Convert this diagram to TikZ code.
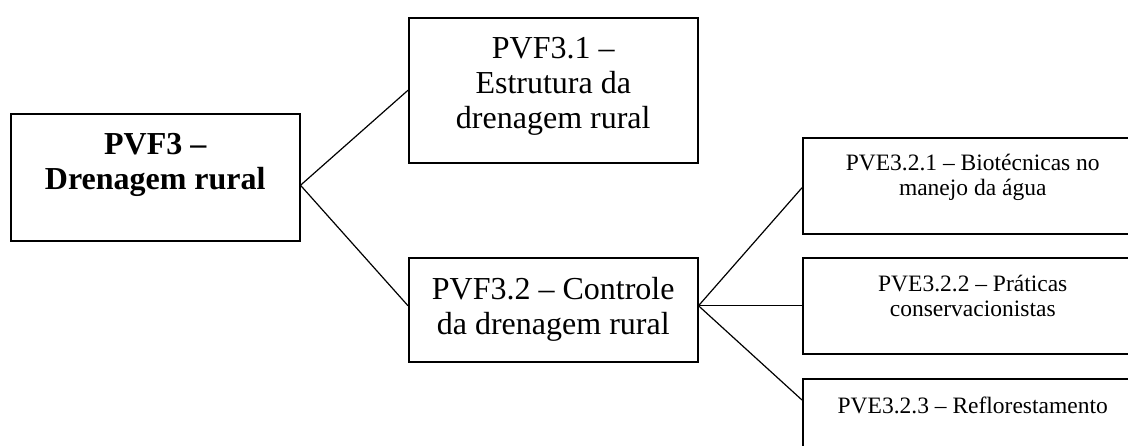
\documentclass[tikz,border=0pt]{standalone}
\usepackage{fontspec}
\setmainfont{Liberation Serif}
\usetikzlibrary{positioning}

\newcommand{\celltext}[4][20pt]{\parbox[c][#3][t]{#2}{\centering\vspace*{#1}#4}}

\begin{document}
\begin{tikzpicture}[
                x=1pt, y=-1pt,
                box/.style={rectangle, draw, line width=1.5pt, inner sep=0pt, anchor=north west},
                big/.style={font=\fontsize{32}{35}\selectfont},
                small/.style={font=\fontsize{23.5}{25.5}\selectfont},
                link/.style={line width=1.2pt}
            ]
                \clip (0,0) rectangle (1128,445);
                \node[box, big] (root) at (10,113) {\celltext{289pt}{127pt}{\bfseries PVF3 --\\Drenagem rural}};
                \node[box, big] (pvf31) at (408,17) {\celltext{289pt}{145pt}{PVF3.1 --\\Estrutura da\\drenagem rural}};
                \node[box, big] (pvf32) at (408,257) {\celltext{289pt}{104pt}{PVF3.2 -- Controle\\da drenagem rural}};
                \node[box, small] (pve321) at (802,137) {\celltext[16pt]{340pt}{96pt}{PVE3.2.1 -- Biotécnicas no\\manejo da água}};
                \node[box, small] (pve322) at (802,257) {\celltext[17pt]{340pt}{96pt}{PVE3.2.2 -- Práticas\\conservacionistas}};
                \node[box, small] (pve323) at (802,378) {\celltext[18pt]{340pt}{96pt}{PVE3.2.3 -- Reflorestamento}};
                
                \draw[link] ([yshift=-8pt]root.east) -- (pvf31.west);
                \draw[link] ([yshift=-8pt]root.east) -- ([yshift=4pt]pvf32.west);
                \draw[link] ([yshift=4pt]pvf32.east) -- ([yshift=-2pt]pve321.west);
                \draw[link] ([yshift=4pt]pvf32.east) -- (pve322.west);
                \draw[link] ([yshift=4pt]pvf32.east) -- ([yshift=-22pt]pve323.north west);
            \end{tikzpicture}
\end{document}
